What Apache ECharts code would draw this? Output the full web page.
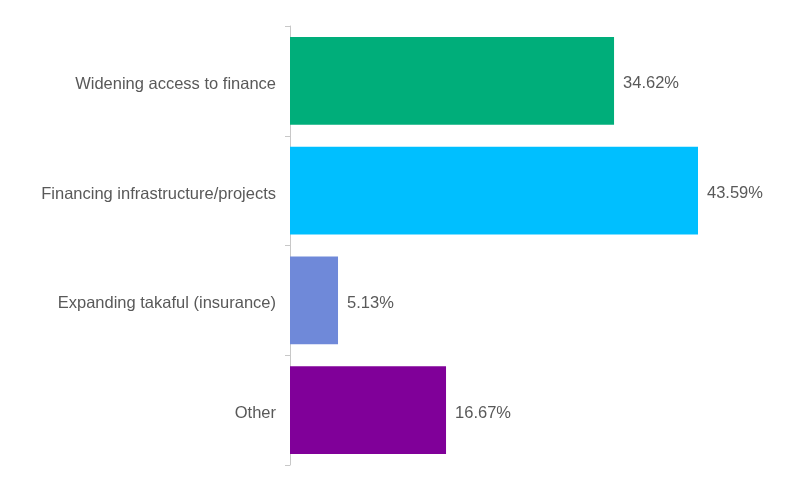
<!DOCTYPE html>
<html><head><meta charset="utf-8">
<script src="https://cdn.jsdelivr.net/npm/echarts@6/dist/echarts.min.js"></script>
<style>html,body{margin:0;padding:0;background:#fff}#c{width:800px;height:492px}</style>
</head><body><div id="c"></div>
<script>
const categories = ["Widening access to finance","Financing infrastructure/projects","Expanding takaful (insurance)","Other"];
const values = [34.62, 43.59, 5.13, 16.67];
const colors = ["#00AE7A","#00BFFF","#6F89D9","#800099"];

const chart = echarts.init(document.getElementById('c'));
chart.setOption({
  animation:false,
  grid:{left:290, top:26, width:468, height:439},
  xAxis:{type:'value', min:0, max:50, show:false},
  yAxis:{type:'category', inverse:true, data:categories,
    axisLine:{lineStyle:{color:'#C8C8C8', width:1}},
    axisTick:{show:true, length:5, lineStyle:{color:'#C8C8C8'}},
    axisLabel:{color:'#595959', fontSize:16.5, fontFamily:'Liberation Sans, Arial, sans-serif', margin:14,
      formatter:v=>'{a|'+v+'}',
      rich:{a:{color:'#595959', fontSize:16.5, fontFamily:'Liberation Sans, Arial, sans-serif', padding:[7,0,0,0]}}}
  },
  series:[{type:'bar', barCategoryGap:'20%',
    data: values.map((v,i)=>({value:v, itemStyle:{color:colors[i]}})),
    label:{show:true, position:'right', distance:9, color:'#595959', fontSize:16.5,
      fontFamily:'Liberation Sans, Arial, sans-serif', offset:[0,3],
      formatter:p=>p.value.toFixed(2)+'%'}
  }]
});
</script></body></html>
